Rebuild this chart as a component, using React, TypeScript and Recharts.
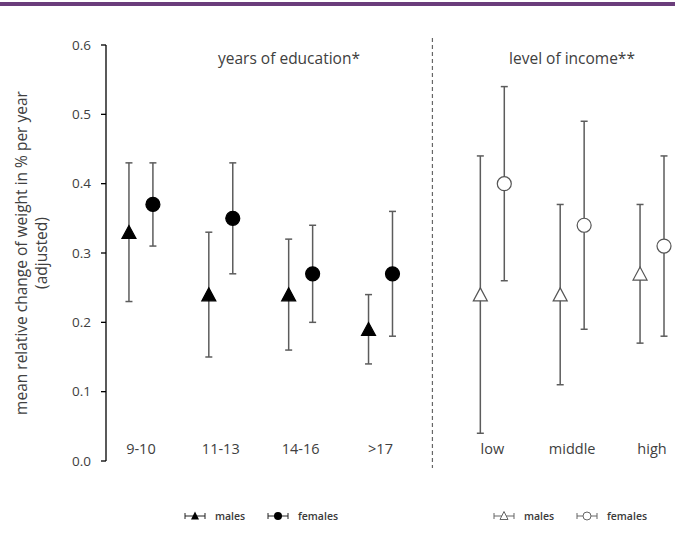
import React from "react";
import { ScatterChart, Scatter, XAxis, YAxis, ErrorBar, ReferenceLine } from "recharts";

// categories and where they sit on the numeric x axis (gap before the income block)
const eduCats = ["9-10", "11-13", "14-16", ">17"];
const incCats = ["low", "middle", "high"];
const eduPos = [0, 1, 2, 3];
const incPos = [4.4, 5.4, 6.4];
const sexOffset = 0.15;
const dividerPos = 3.65;

// years of education
const eduMales = [0.33, 0.24, 0.24, 0.19];
const eduMalesLow = [0.23, 0.15, 0.16, 0.14];
const eduMalesHigh = [0.43, 0.33, 0.32, 0.24];
const eduFemales = [0.37, 0.35, 0.27, 0.27];
const eduFemalesLow = [0.31, 0.27, 0.2, 0.18];
const eduFemalesHigh = [0.43, 0.43, 0.34, 0.36];

// level of income
const incMales = [0.24, 0.24, 0.27];
const incMalesLow = [0.04, 0.11, 0.17];
const incMalesHigh = [0.44, 0.37, 0.37];
const incFemales = [0.4, 0.34, 0.31];
const incFemalesLow = [0.26, 0.19, 0.18];
const incFemalesHigh = [0.54, 0.49, 0.44];

const yTicks = [0, 0.1, 0.2, 0.3, 0.4, 0.5, 0.6];

const FONT = "'Open Sans', sans-serif";
const TEXT = "#404040";
const BAR = "#5c5c5c";

const build = (pos: number[], off: number, mean: number[], lo: number[], hi: number[]) =>
  pos.map((p, i) => ({ x: p + off, y: mean[i], err: [mean[i] - lo[i], hi[i] - mean[i]] }));

const eduMaleData = build(eduPos, -sexOffset, eduMales, eduMalesLow, eduMalesHigh);
const eduFemaleData = build(eduPos, sexOffset, eduFemales, eduFemalesLow, eduFemalesHigh);
const incMaleData = build(incPos, -sexOffset, incMales, incMalesLow, incMalesHigh);
const incFemaleData = build(incPos, sexOffset, incFemales, incFemalesLow, incFemalesHigh);

const tickPos = [...eduPos, ...incPos];
const tickNames = [...eduCats, ...incCats];

const triangle = (fill: string, stroke: string) => (p: any) => {
  const { cx, cy } = p;
  const h = 12.5, w = 7;
  return (
    <path
      d={`M${cx},${cy - h / 2 - 0.5} L${cx + w},${cy + h / 2} L${cx - w},${cy + h / 2} Z`}
      fill={fill}
      stroke={stroke}
      strokeWidth={1.2}
    />
  );
};

const circle = (fill: string, stroke: string) => (p: any) => (
  <circle cx={p.cx} cy={p.cy} r={7} fill={fill} stroke={stroke} strokeWidth={1.2} />
);

const XTick = ({ x, y, payload }: any) => {
  const i = tickPos.indexOf(payload.value);
  return (
    <text x={x} y={y - 15} textAnchor="middle" fontSize={14.5} fill={TEXT} fontFamily={FONT}>
      {tickNames[i]}
    </text>
  );
};

const YTitle = () => (
  <g fontFamily={FONT} fontSize={15.5} fill={TEXT} textAnchor="middle">
    <text transform="translate(27,253) rotate(-90)">mean relative change of weight in % per year</text>
    <text transform="translate(47,253) rotate(-90)">(adjusted)</text>
  </g>
);

const LegendIcon = ({ kind }: { kind: string }) => {
  const c = kind.startsWith("open") ? "#666" : "#222";
  return (
    <svg width={22} height={12} style={{ display: "block" }}>
      <line x1={1} y1={6} x2={21} y2={6} stroke={c} strokeWidth={1} />
      <line x1={1} y1={3} x2={1} y2={9} stroke={c} strokeWidth={1} />
      <line x1={21} y1={3} x2={21} y2={9} stroke={c} strokeWidth={1} />
      {kind === "tri" && <path d="M11,1.5 L15,9.5 L7,9.5 Z" fill="#000" />}
      {kind === "dot" && <circle cx={11} cy={6} r={4} fill="#000" />}
      {kind === "openTri" && <path d="M11,1.5 L15,9.5 L7,9.5 Z" fill="#fff" stroke={c} strokeWidth={1} />}
      {kind === "openDot" && <circle cx={11} cy={6} r={4} fill="#fff" stroke={c} strokeWidth={1} />}
    </svg>
  );
};

const LegendItem = ({ left, kind, label }: { left: number; kind: string; label: string }) => (
  <div style={{ position: "absolute", left, top: 509, display: "flex", alignItems: "center" }}>
    <LegendIcon kind={kind} />
    <span style={{ marginLeft: 9, fontSize: 10.5, fontWeight: 600, color: "#3a3a3a", fontFamily: FONT }}>{label}</span>
  </div>
);

const titleStyle: React.CSSProperties = {
  position: "absolute",
  top: 47,
  transform: "translateX(-50%)",
  fontSize: 15.5,
  color: TEXT,
  fontFamily: FONT,
  whiteSpace: "nowrap",
};

export default function App() {
  return (
    <div style={{ position: "absolute", left: 0, top: 0, width: 675, height: 541, background: "#fff" }}>
      <div style={{ position: "absolute", left: 0, top: 2, width: 675, height: 4, background: "#6b3d7b" }} />
      <ScatterChart width={675} height={541} margin={{ top: 45, right: 7, bottom: 50, left: 0 }}>
        <XAxis
          type="number"
          dataKey="x"
          domain={[-0.4375, 6.6]}
          ticks={tickPos}
          axisLine={false}
          tickLine={false}
          tick={<XTick />}
          height={30}
        />
        <YAxis
          type="number"
          dataKey="y"
          domain={[0, 0.6]}
          ticks={yTicks}
          width={106}
          axisLine={{ stroke: "#000", strokeWidth: 1.3 }}
          tickLine={{ stroke: "#000", strokeWidth: 1.3 }}
          tickSize={5}
          tickMargin={10}
          tickFormatter={(v: number) => v.toFixed(1)}
          tick={{ fontSize: 13.5, fill: TEXT, fontFamily: FONT }}
          label={{ content: () => <YTitle /> }}
        />
        <ReferenceLine
          segment={[{ x: dividerPos, y: 0.61 }, { x: dividerPos, y: -0.01 }]}
          ifOverflow="visible"
          stroke="#666"
          strokeWidth={1.2}
          strokeDasharray="4 3"
        />
        <Scatter data={eduMaleData} isAnimationActive={false} shape={triangle("#000", "#000")}>
          <ErrorBar dataKey="err" direction="y" width={3.5} stroke={BAR} strokeWidth={1.5} />
        </Scatter>
        <Scatter data={eduFemaleData} isAnimationActive={false} shape={circle("#000", "#000")}>
          <ErrorBar dataKey="err" direction="y" width={3.5} stroke={BAR} strokeWidth={1.5} />
        </Scatter>
        <Scatter data={incMaleData} isAnimationActive={false} shape={triangle("#fff", "#555")}>
          <ErrorBar dataKey="err" direction="y" width={3.5} stroke={BAR} strokeWidth={1.5} />
        </Scatter>
        <Scatter data={incFemaleData} isAnimationActive={false} shape={circle("#fff", "#555")}>
          <ErrorBar dataKey="err" direction="y" width={3.5} stroke={BAR} strokeWidth={1.5} />
        </Scatter>
      </ScatterChart>
      <div style={{ ...titleStyle, left: 289 }}>years of education*</div>
      <div style={{ ...titleStyle, left: 572 }}>level of income**</div>
      <LegendItem left={184} kind="tri" label="males" />
      <LegendItem left={267} kind="dot" label="females" />
      <LegendItem left={493} kind="openTri" label="males" />
      <LegendItem left={576} kind="openDot" label="females" />
    </div>
  );
}
